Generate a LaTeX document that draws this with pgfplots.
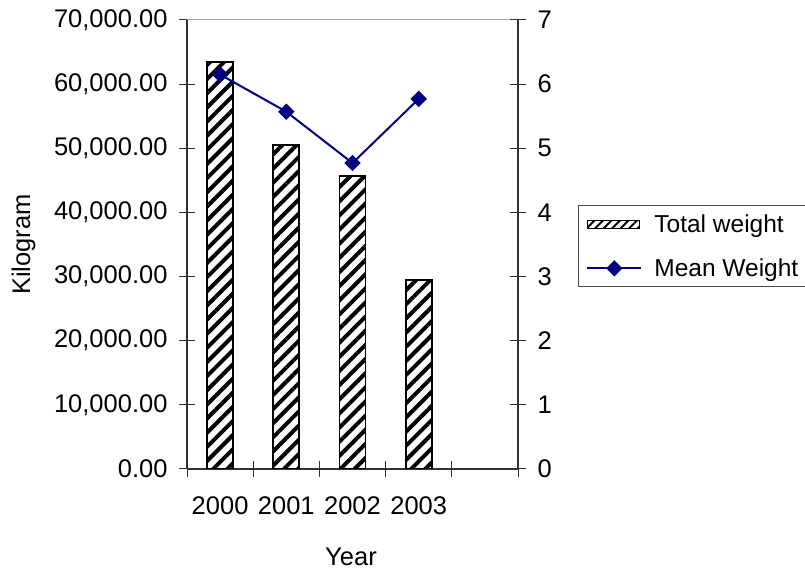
\documentclass[border=0pt]{standalone}
\usepackage{fontspec}
\setmainfont{Liberation Sans}
\usepackage{pgfplots}
\pgfplotsset{compat=1.18}
\usetikzlibrary{patterns.meta}
\definecolor{navy}{RGB}{0,0,128}
\pgfplotsset{
 mylinelegend/.style={legend image code/.code={\draw[mark repeat=2,mark phase=2,##1] plot coordinates {(0pt,0pt) (27pt,0pt) (54pt,0pt)};}},
 mybarlegend/.style={legend image code/.code={\draw[pattern={Lines[angle=45,distance=6pt,line width=2pt]}, draw=black, line width=1.2pt] (0pt,-4pt) rectangle (52pt,4pt);}},
}
\begin{document}
\begin{tikzpicture}
\path[use as bounding box] (0,0) rectangle (805pt,569pt);
\begin{axis}[
 at={(187pt,100pt)}, anchor=south west,
 scale only axis, width=331pt, height=449pt,
 xmin=-0.5, xmax=4.5, ymin=0, ymax=70000,
 axis x line*=bottom, axis y line*=left,
 axis line style={line width=1.2pt, black!80, -},
 xtick={-0.5,0.5,...,4.5}, xticklabels={},
 extra x ticks={0,1,2,3}, extra x tick labels={2000,2001,2002,2003},
 extra x tick style={tick style={draw=none}, xticklabel style={yshift=-16pt}},
 ytick={0,10000,...,70000},
 scaled y ticks=false,
 yticklabel style={xshift=-8pt, /pgf/number format/.cd, fixed, fixed zerofill, precision=2, 1000 sep={,}},
 /pgf/number format/assume math mode=true,
 tick align=center, major tick length=16pt,
 tick style={line width=1pt, black!80},
 ticklabel style={font=\fontsize{25.5}{30}\selectfont},
 xlabel={Year}, ylabel={Kilogram},
 label style={font=\fontsize{25.5}{30}\selectfont},
 xlabel style={at={(axis description cs:0.4955,-0.195)}, anchor=center},
 ylabel style={at={(axis description cs:-0.4935,0.5)}, anchor=center},
]
\addplot[ybar, bar width=26pt, draw=black, line width=1.8pt,
  pattern={Lines[angle=45,distance=10pt,line width=4pt]}]
  coordinates {(0,63500) (1,50500) (2,45700) (3,29500)};
\draw[black!35, line width=1pt] (rel axis cs:0,1) -- (rel axis cs:1,1);
\end{axis}
\begin{axis}[
 at={(187pt,100pt)}, anchor=south west,
 scale only axis, width=331pt, height=449pt,
 xmin=-0.5, xmax=4.5, ymin=0, ymax=7,
 axis x line=none, axis y line*=right,
 axis line style={line width=1.2pt, black!80, -},
 ytick={0,1,...,7},
 yticklabel style={xshift=8pt},
 /pgf/number format/assume math mode=true,
 tick align=center, major tick length=16pt,
 tick style={line width=1pt, black!80},
 ticklabel style={font=\fontsize{25.5}{30}\selectfont},
 legend style={at={(1.181,0.588)}, anchor=north west, draw=black!70, line width=1pt,
   font=\fontsize{24.5}{29}\selectfont, inner xsep=8pt, inner ysep=7pt, row sep=21pt,
   /tikz/every odd column/.append style={column sep=10pt}},
 legend cell align=left,
]
\addlegendimage{mybarlegend}
\addlegendentry{Total weight}
\addplot[navy, line width=2pt, mark=square*, mark size=4.8pt, mark options={rotate=45, solid}, mylinelegend]
  coordinates {(0,6.15) (1,5.57) (2,4.77) (3,5.77)};
\addlegendentry{Mean Weight}
\end{axis}
\end{tikzpicture}
\end{document}
